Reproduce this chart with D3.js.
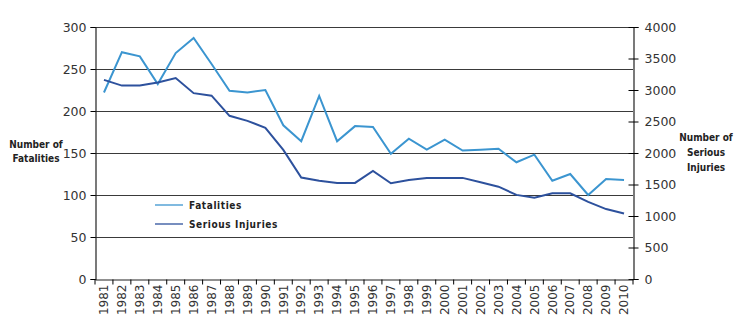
<!DOCTYPE html>
<html>
<head>
<meta charset="utf-8">
<script src="https://cdn.jsdelivr.net/npm/d3@7"></script>
<style>
  body { margin: 0; background: #fff; }
  svg { display: block; }
  .tick text { font-family: "DejaVu Sans", sans-serif; fill: #333; }
  .ttl { font-family: "DejaVu Sans", sans-serif; font-stretch: condensed; font-weight: bold; font-size: 10px; fill: #222; }
</style>
</head>
<body>
<div id="chart"></div>
<script>
// road casualties by year
var years = d3.range(1981, 2011).map(String);
var fatalities = [222, 270, 265, 232, 269, 287, 256, 224, 222, 225,
                  183, 164, 218, 164, 182, 181, 149, 167, 154, 166,
                  153, 154, 155, 139, 148, 117, 125, 100, 119, 118];
var seriousInjuries = [3160, 3070, 3070, 3120, 3190, 2950, 2910, 2590, 2510, 2400,
                       2050, 1610, 1560, 1525, 1525, 1715, 1520, 1570, 1605, 1605,
                       1605, 1535, 1465, 1335, 1290, 1360, 1360, 1225, 1110, 1040];
var leftTicks = [0, 50, 100, 150, 200, 250, 300];
var rightTicks = [0, 500, 1000, 1500, 2000, 2500, 3000, 3500, 4000];

var W = 754, H = 330;
var m = {left: 95, right: 121, top: 27, bottom: 51};

var svg = d3.select("#chart").append("svg")
    .attr("width", W).attr("height", H);

var x = d3.scaleBand().domain(years)
    .range([m.left, W - m.right]).padding(0);
var yL = d3.scaleLinear().domain([0, 300]).range([H - m.bottom, m.top]);
var yR = d3.scaleLinear().domain([0, 4000]).range([H - m.bottom, m.top]);

// gridlines
svg.append("g").selectAll("line")
    .data(leftTicks.slice(1))
    .join("line")
    .attr("x1", m.left).attr("x2", W - m.right)
    .attr("y1", function(d){ return Math.round(yL(d)) + 0.5; })
    .attr("y2", function(d){ return Math.round(yL(d)) + 0.5; })
    .attr("stroke", "#3a3a3a").attr("stroke-width", 1.2);

// left axis
var gl = svg.append("g")
    .attr("transform", "translate(" + (m.left + 0.5) + ",0)")
    .call(d3.axisLeft(yL).tickValues(leftTicks).tickSize(5).tickPadding(4));
gl.selectAll("text").style("font-size", "12.5px");

// right axis
var gr = svg.append("g")
    .attr("transform", "translate(" + (W - m.right + 0.5) + ",0)")
    .call(d3.axisRight(yR).tickValues(rightTicks).tickFormat(d3.format("d"))
        .tickSize(5).tickPadding(6));
gr.selectAll(".tick line").attr("x1", -5);
gr.selectAll("text").style("font-size", "12.5px");

// x axis
var gx = svg.append("g")
    .attr("transform", "translate(0," + (H - m.bottom + 0.5) + ")")
    .call(d3.axisBottom(x).tickSize(0).tickSizeOuter(0));
gx.selectAll(".tick text")
    .attr("transform", "rotate(-90)")
    .attr("text-anchor", "end")
    .attr("x", -5).attr("y", 0).attr("dy", "0.35em")
    .style("font-size", "12px");
gx.selectAll(".tick").append("line")
    .attr("x1", -x.bandwidth() / 2).attr("x2", -x.bandwidth() / 2)
    .attr("y1", 0).attr("y2", 5).attr("stroke", "#000");
gx.append("line")
    .attr("x1", W - m.right).attr("x2", W - m.right)
    .attr("y1", 0).attr("y2", 5).attr("stroke", "#000");

svg.selectAll(".domain").attr("stroke", "#222").attr("stroke-width", 1.2);

// lines
var cx = function(d, i){ return x(years[i]) + x.bandwidth() / 2; };
svg.append("path").datum(fatalities)
    .attr("fill", "none").attr("stroke", "#3b95d0").attr("stroke-width", 2)
    .attr("d", d3.line().x(cx).y(function(d){ return yL(d); }));
svg.append("path").datum(seriousInjuries)
    .attr("fill", "none").attr("stroke", "#2d519d").attr("stroke-width", 2)
    .attr("d", d3.line().x(cx).y(function(d){ return yR(d); }));

// legend
var legend = [["Fatalities", "#3b95d0"], ["Serious Injuries", "#2d519d"]];
var lg = svg.append("g").selectAll("g").data(legend).join("g")
    .attr("transform", function(d, i){ return "translate(155," + (205 + i * 19) + ")"; });
lg.append("line").attr("x1", 0).attr("x2", 28)
    .attr("stroke", function(d){ return d[1]; }).attr("stroke-width", 1.3);
lg.append("text").attr("class", "ttl").attr("x", 34).attr("dy", "0.35em")
    .style("letter-spacing", "0.6px")
    .text(function(d){ return d[0]; });

// axis titles
svg.append("text").attr("class", "ttl").attr("text-anchor", "middle")
    .attr("x", 36).attr("y", 148)
    .selectAll("tspan").data(["Number of", "Fatalities"]).join("tspan")
    .attr("x", 36).attr("dy", function(d, i){ return i ? 14 : 0; })
    .text(function(d){ return d; });
svg.append("text").attr("class", "ttl").attr("text-anchor", "middle")
    .attr("x", 706).attr("y", 141)
    .selectAll("tspan").data(["Number of", "Serious", "Injuries"]).join("tspan")
    .attr("x", 706).attr("dy", function(d, i){ return i ? 15 : 0; })
    .text(function(d){ return d; });
</script>
</body>
</html>
